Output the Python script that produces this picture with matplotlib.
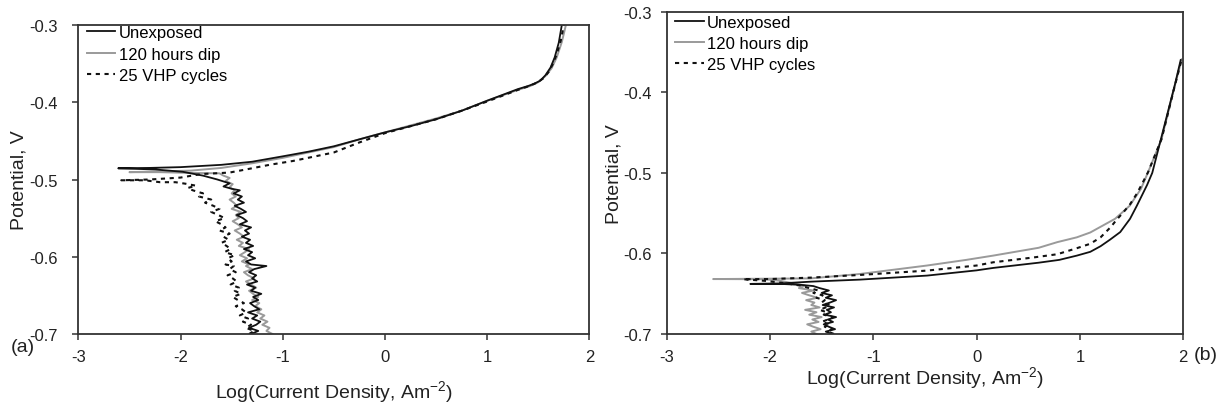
import matplotlib
matplotlib.use("Agg")
import matplotlib.pyplot as plt

plt.rcParams['font.family'] = ['Liberation Sans', 'DejaVu Sans']
plt.rcParams['axes.unicode_minus'] = False
plt.rcParams['mathtext.fontset'] = 'custom'
plt.rcParams['mathtext.rm'] = 'Liberation Sans'

# potentials (V) at which the noisy cathodic branches were read, bottom up
a_cath_e = [-0.700, -0.696, -0.692, -0.688, -0.684, -0.680, -0.676, -0.672, -0.668, -0.664,
            -0.660, -0.656, -0.652, -0.648, -0.644, -0.640, -0.636, -0.632, -0.628, -0.624,
            -0.620, -0.616, -0.612, -0.610, -0.606, -0.602, -0.598, -0.594, -0.590, -0.586,
            -0.582, -0.578, -0.574, -0.570, -0.566, -0.562, -0.558, -0.554, -0.550, -0.546,
            -0.542, -0.538, -0.534, -0.530, -0.526, -0.522, -0.518, -0.514]
b_cath_e = [-0.700, -0.697, -0.694, -0.691, -0.688, -0.685, -0.682, -0.679, -0.676, -0.673,
            -0.670, -0.667, -0.664, -0.661, -0.658, -0.655, -0.652, -0.649, -0.646, -0.643]

# ---- panel (a): log current density on the cathodic branch ----
a_unexp_cath = [-1.31, -1.24, -1.33, -1.26, -1.22, -1.30, -1.25, -1.34, -1.23, -1.28,
                -1.32, -1.24, -1.29, -1.21, -1.31, -1.27, -1.35, -1.25, -1.30, -1.26,
                -1.33, -1.28, -1.16, -1.31, -1.36, -1.27, -1.34, -1.30, -1.38, -1.29,
                -1.36, -1.32, -1.40, -1.33, -1.37, -1.31, -1.42, -1.35, -1.39, -1.45,
                -1.36, -1.41, -1.47, -1.38, -1.44, -1.40, -1.48, -1.42]
a_dip_cath = [-1.10, -1.16, -1.13, -1.20, -1.15, -1.22, -1.18, -1.25, -1.21, -1.27,
              -1.23, -1.30, -1.24, -1.29, -1.33, -1.26, -1.31, -1.36, -1.28, -1.34,
              -1.38, -1.30, -1.36, -1.33, -1.40, -1.35, -1.42, -1.37, -1.33, -1.43,
              -1.39, -1.45, -1.38, -1.42, -1.47, -1.40, -1.44, -1.49, -1.43, -1.46,
              -1.41, -1.50, -1.45, -1.48, -1.52, -1.46, -1.50, -1.47]
a_vhp_cath = [-1.33, -1.28, -1.36, -1.31, -1.39, -1.34, -1.42, -1.36, -1.40, -1.46,
              -1.38, -1.44, -1.49, -1.41, -1.47, -1.43, -1.51, -1.45, -1.49, -1.54,
              -1.46, -1.52, -1.48, -1.56, -1.50, -1.54, -1.47, -1.57, -1.51, -1.55,
              -1.60, -1.53, -1.58, -1.52, -1.62, -1.56, -1.60, -1.66, -1.57, -1.63,
              -1.70, -1.62, -1.68, -1.76, -1.70, -1.82, -1.78, -1.88]

# ---- panel (a): around Ecorr and anodic branch ----
a_unexp_logi = [-1.50, -1.58, -1.52, -1.64, -1.78, -1.98, -2.25, -2.61, -2.30, -2.00,
                -1.60, -1.30, -1.00, -0.75, -0.50, -0.25, 0.00, 0.25, 0.50, 0.75,
                1.00, 1.30, 1.40, 1.46, 1.52, 1.57, 1.62, 1.66, 1.70, 1.73]
a_unexp_e = [-0.512, -0.509, -0.505, -0.500, -0.495, -0.490, -0.487, -0.4855, -0.4850, -0.4840,
             -0.4810, -0.4770, -0.4700, -0.4640, -0.4570, -0.4480, -0.4390, -0.4310, -0.4220, -0.4110,
             -0.3980, -0.3830, -0.3790, -0.3760, -0.3720, -0.3650, -0.3550, -0.3420, -0.3230, -0.3000]

a_dip_logi = [-1.52, -1.49, -1.56, -1.52, -1.58, -1.62, -1.90, -2.20, -2.50, -2.20,
              -1.90, -1.60, -1.30, -1.00, -0.75, -0.50, -0.25, 0.00, 0.25, 0.50,
              0.75, 1.00, 1.30, 1.42, 1.50, 1.57, 1.63, 1.68, 1.73, 1.77]
a_dip_e = [-0.510, -0.506, -0.502, -0.498, -0.495, -0.492, -0.4915, -0.4905, -0.4905, -0.4895,
           -0.4885, -0.4850, -0.4790, -0.4720, -0.4650, -0.4580, -0.4480, -0.4390, -0.4300, -0.4210,
           -0.4110, -0.3980, -0.3840, -0.3790, -0.3740, -0.3660, -0.3560, -0.3420, -0.3220, -0.3000]

a_vhp_logi = [-1.93, -1.85, -1.95, -2.05, -2.20, -2.35, -2.58, -2.30, -2.00, -1.80,
              -1.52, -1.36, -1.13, -0.90, -0.50, -0.25, 0.00, 0.25, 0.50, 0.75,
              1.00, 1.30, 1.41, 1.48, 1.55, 1.60, 1.64, 1.68, 1.72, 1.75]
a_vhp_e = [-0.511, -0.508, -0.5055, -0.5035, -0.5035, -0.501, -0.501, -0.500, -0.4975, -0.4930,
           -0.4910, -0.4870, -0.4810, -0.4760, -0.4650, -0.4520, -0.4400, -0.4310, -0.4220, -0.4110,
           -0.3990, -0.3840, -0.3790, -0.3750, -0.3690, -0.3610, -0.3510, -0.3380, -0.3200, -0.3000]

# ---- panel (b): cathodic branch ----
b_unexp_cath = [-1.40, -1.46, -1.37, -1.43, -1.48, -1.39, -1.44, -1.36, -1.47, -1.41,
                -1.45, -1.38, -1.49, -1.42, -1.36, -1.46, -1.40, -1.50, -1.43, -1.52]
b_dip_cath = [-1.55, -1.60, -1.51, -1.58, -1.64, -1.53, -1.59, -1.50, -1.62, -1.55,
              -1.66, -1.52, -1.60, -1.57, -1.65, -1.54, -1.62, -1.69, -1.58, -1.72]
b_vhp_cath = [-1.38, -1.44, -1.40, -1.47, -1.42, -1.50, -1.44, -1.39, -1.48, -1.45,
              -1.52, -1.46, -1.42, -1.50, -1.47, -1.55, -1.49, -1.58, -1.53, -1.62]

# ---- panel (b): around Ecorr and anodic branch ----
b_unexp_logi = [-1.58, -1.70, -1.90, -2.19, -1.90, -1.60, -1.13, -0.48, 0.00, 0.16,
                0.60, 0.80, 0.97, 1.10, 1.20, 1.29, 1.39, 1.485, 1.55, 1.60,
                1.65, 1.70, 1.78, 1.85, 1.92, 1.975]
b_unexp_e = [-0.6405, -0.6390, -0.6378, -0.6378, -0.6372, -0.6350, -0.6325, -0.6275, -0.6210, -0.6180,
             -0.6115, -0.6080, -0.6027, -0.5980, -0.5910, -0.5830, -0.5735, -0.5570, -0.5410, -0.5280,
             -0.5150, -0.5000, -0.4600, -0.4250, -0.3900, -0.3600]

b_dip_logi = [-1.66, -1.78, -1.90, -2.05, -2.55, -2.20, -1.61, -1.13, -0.48, -0.10,
              0.16, 0.60, 0.78, 0.97, 1.10, 1.34, 1.48, 1.59, 1.66, 1.79,
              1.91, 1.985]
b_dip_e = [-0.640, -0.637, -0.634, -0.632, -0.6318, -0.6315, -0.6310, -0.6255, -0.6150, -0.6080,
           -0.6027, -0.5930, -0.5860, -0.5800, -0.5740, -0.5570, -0.5410, -0.5200, -0.4990, -0.4580,
           -0.3960, -0.3590]

b_vhp_logi = [-1.70, -1.85, -2.05, -2.26, -2.00, -1.60, -1.13, -0.48, 0.00, 0.16,
              0.55, 0.78, 0.97, 1.10, 1.20, 1.30, 1.356, 1.42, 1.485, 1.55,
              1.60, 1.66, 1.79, 1.91, 1.985]
b_vhp_e = [-0.640, -0.637, -0.634, -0.632, -0.6318, -0.6300, -0.6267, -0.6213, -0.6150, -0.6110,
           -0.6050, -0.6010, -0.5935, -0.5880, -0.5800, -0.5670, -0.5580, -0.5490, -0.5390, -0.5260,
           -0.5140, -0.4990, -0.4580, -0.3960, -0.3590]

labels = ['Unexposed', '120 hours dip', '25 VHP cycles']
x_ticks = [-3, -2, -1, 0, 1, 2]
y_ticks = [-0.7, -0.6, -0.5, -0.4, -0.3]

fig = plt.figure(figsize=(12.3, 4.1), dpi=100)
ax1 = fig.add_axes([0.0637, 0.1829, 0.4155, 0.7537])
ax2 = fig.add_axes([0.5420, 0.1829, 0.4200, 0.7861])

black = '#111111'
grey = '#9a9a9a'
dots = (0, (2.0, 2.2))


def draw(ax, cath_e, unexp, dip, vhp, ypad, legend_y, spacing):
    # each curve = cathodic branch (bottom up) followed by Ecorr + anodic part
    ax.plot(dip[0] + dip[1], cath_e + dip[2], color=grey, lw=1.4, label=labels[1])
    ax.plot(vhp[0] + vhp[1], cath_e + vhp[2], color=black, lw=1.5, linestyle=dots, label=labels[2])
    ax.plot(unexp[0] + unexp[1], cath_e + unexp[2], color=black, lw=1.3, label=labels[0])
    ax.set_xlim(-3, 2)
    ax.set_ylim(-0.7, -0.3)
    ax.set_xticks(x_ticks)
    ax.set_xticklabels([str(t) for t in x_ticks])
    ax.set_yticks(y_ticks)
    ax.set_yticklabels(['%.1f' % t for t in y_ticks])
    for s in ax.spines.values():
        s.set_linewidth(1.3)
        s.set_color('#333333')
    ax.tick_params(axis='both', direction='out', length=4, width=1.1,
                   color='#333333', labelsize=12, labelcolor='#222222')
    ax.tick_params(axis='y', pad=ypad)
    ax.tick_params(axis='x', pad=7)
    ax.set_ylabel('Potential, V', fontsize=14, color='#222222')
    handles, labs = ax.get_legend_handles_labels()
    order = [2, 0, 1]
    ax.legend([handles[i] for i in order], [labs[i] for i in order],
              loc='upper left', bbox_to_anchor=(0.017, legend_y), frameon=False,
              fontsize=12, handlelength=1.7, handletextpad=0.2,
              labelspacing=spacing, borderpad=0, borderaxespad=0)


draw(ax1, a_cath_e, (a_unexp_cath, a_unexp_logi, a_unexp_e), (a_dip_cath, a_dip_logi, a_dip_e),
     (a_vhp_cath, a_vhp_logi, a_vhp_e), 11, 1.0, 0.4)
draw(ax2, b_cath_e, (b_unexp_cath, b_unexp_logi, b_unexp_e), (b_dip_cath, b_dip_logi, b_dip_e),
     (b_vhp_cath, b_vhp_logi, b_vhp_e), 7, 0.99, 0.35)

ax1.yaxis.set_label_coords(-0.100, 0.5)
ax2.yaxis.set_label_coords(-0.085, 0.5)
ax1.set_xlabel('Log(Current Density, Am$^{-2}$)', fontsize=14, color='#222222', labelpad=10)
ax2.set_xlabel('Log(Current Density, Am$^{-2}$)', fontsize=14, color='#222222', labelpad=0)

fig.text(23 / 1230, 1 - 348 / 410, '(a)', fontsize=14, ha='center', va='center', color='#222222')
fig.text(1206 / 1230, 1 - 356 / 410, '(b)', fontsize=14, ha='center', va='center', color='#222222')

fig.savefig('out.png', dpi=100)
